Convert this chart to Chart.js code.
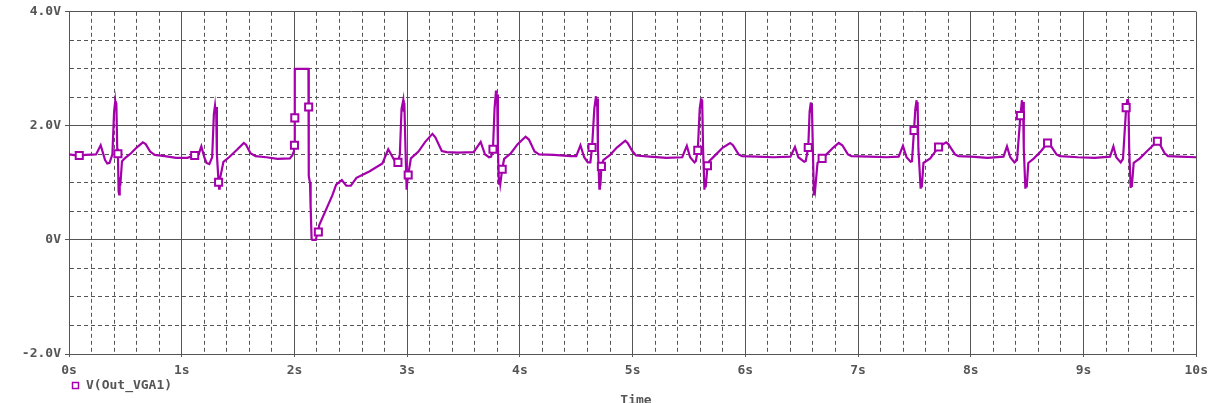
<!DOCTYPE html>
<html>
<head>
<meta charset="utf-8">
<script src="https://cdn.jsdelivr.net/npm/chart.js@4/dist/chart.umd.min.js"></script>
<style>
  html, body { margin: 0; padding: 0; background: #fff; }
  canvas { display: block; }
</style>
</head>
<body>
<canvas id="scopeChart" width="1214" height="403"></canvas>
<script>
// V(Out_VGA1) trace, [time s, volts]
const trace = [
  [0.00, 1.50], [0.08, 1.48], [0.15, 1.49], [0.24, 1.50], [0.281, 1.66], [0.32, 1.40],
  [0.34, 1.34], [0.36, 1.35], [0.385, 1.50], [0.40, 2.25], [0.41, 2.43], [0.416, 2.30],
  [0.42, 2.40], [0.428, 1.60], [0.434, 1.51], [0.44, 0.85], [0.445, 0.80], [0.45, 1.10],
  [0.455, 0.95], [0.47, 1.38], [0.50, 1.44], [0.55, 1.52], [0.60, 1.62], [0.655, 1.71],
  [0.68, 1.68], [0.72, 1.55], [0.76, 1.49], [0.85, 1.47], [0.95, 1.44], [1.05, 1.44],
  [1.115, 1.48], [1.15, 1.50], [1.174, 1.64], [1.20, 1.45], [1.22, 1.35], [1.245, 1.33],
  [1.27, 1.45], [1.285, 2.20], [1.295, 2.35], [1.30, 2.22], [1.305, 2.33], [1.312, 1.50],
  [1.327, 1.01], [1.332, 0.90], [1.337, 1.05], [1.37, 1.37], [1.42, 1.45], [1.49, 1.58],
  [1.551, 1.70], [1.57, 1.67], [1.61, 1.52], [1.655, 1.47], [1.75, 1.45], [1.85, 1.42],
  [1.96, 1.43], [1.98, 1.48], [1.995, 1.55], [2.00, 1.66], [2.003, 3.00], [2.124, 3.00],
  [2.126, 2.33], [2.128, 1.12], [2.138, 1.00], [2.142, 0.55], [2.145, 0.60], [2.152, 0.02],
  [2.158, 0.00], [2.19, 0.00], [2.20, 0.10], [2.212, 0.14], [2.22, 0.26], [2.336, 0.78],
  [2.37, 0.97], [2.42, 1.05], [2.46, 0.95], [2.50, 0.95], [2.55, 1.09], [2.664, 1.20],
  [2.78, 1.34], [2.832, 1.59], [2.885, 1.40], [2.918, 1.36], [2.935, 1.50], [2.95, 2.30],
  [2.965, 2.45], [2.97, 2.25], [2.975, 2.40], [2.985, 1.60], [2.995, 0.88], [3.00, 1.00],
  [3.009, 1.14], [3.033, 1.43], [3.10, 1.55], [3.16, 1.72], [3.224, 1.86], [3.25, 1.80],
  [3.307, 1.56], [3.35, 1.54], [3.45, 1.53], [3.59, 1.54], [3.652, 1.72], [3.69, 1.50],
  [3.726, 1.45], [3.745, 1.46], [3.761, 1.59], [3.775, 2.30], [3.788, 2.62], [3.793, 2.40],
  [3.798, 2.55], [3.805, 1.60], [3.814, 0.97], [3.819, 1.10], [3.826, 0.98], [3.843, 1.24],
  [3.86, 1.42], [3.92, 1.52], [3.98, 1.68], [4.05, 1.81], [4.08, 1.76], [4.13, 1.55],
  [4.17, 1.50], [4.30, 1.49], [4.45, 1.47], [4.50, 1.47], [4.537, 1.66], [4.57, 1.45],
  [4.602, 1.36], [4.625, 1.36], [4.640, 1.62], [4.66, 2.30], [4.675, 2.52], [4.68, 2.35],
  [4.685, 2.48], [4.692, 1.60], [4.705, 0.90], [4.71, 1.10], [4.714, 0.95], [4.723, 1.29],
  [4.74, 1.40], [4.80, 1.49], [4.86, 1.62], [4.935, 1.74], [4.955, 1.70], [5.00, 1.55],
  [5.03, 1.48], [5.15, 1.46], [5.30, 1.44], [5.44, 1.45], [5.481, 1.65], [5.51, 1.45],
  [5.549, 1.36], [5.56, 1.38], [5.578, 1.57], [5.595, 2.30], [5.608, 2.48], [5.612, 2.30],
  [5.617, 2.45], [5.625, 1.60], [5.637, 0.88], [5.642, 1.05], [5.648, 0.92], [5.664, 1.30],
  [5.68, 1.38], [5.74, 1.50], [5.80, 1.62], [5.865, 1.70], [5.89, 1.66], [5.94, 1.50],
  [5.97, 1.47], [6.10, 1.46], [6.25, 1.45], [6.40, 1.46], [6.44, 1.63], [6.47, 1.45],
  [6.522, 1.37], [6.535, 1.38], [6.558, 1.62], [6.57, 2.25], [6.581, 2.41], [6.585, 2.25],
  [6.59, 2.38], [6.60, 1.50], [6.608, 0.78], [6.614, 1.00], [6.62, 0.90], [6.64, 1.35],
  [6.681, 1.43], [6.72, 1.50], [6.78, 1.62], [6.829, 1.70], [6.86, 1.66], [6.91, 1.50],
  [6.94, 1.47], [7.10, 1.46], [7.25, 1.45], [7.36, 1.46], [7.398, 1.65], [7.43, 1.45],
  [7.466, 1.37], [7.478, 1.38], [7.496, 1.92], [7.508, 2.30], [7.519, 2.45], [7.523, 2.28],
  [7.528, 2.42], [7.535, 1.60], [7.555, 0.90], [7.56, 1.05], [7.565, 0.92], [7.58, 1.35],
  [7.64, 1.43], [7.714, 1.63], [7.781, 1.71], [7.80, 1.68], [7.86, 1.50], [7.89, 1.47],
  [8.00, 1.46], [8.15, 1.44], [8.29, 1.46], [8.321, 1.64], [8.35, 1.45], [8.387, 1.36],
  [8.41, 1.40], [8.44, 2.18], [8.454, 2.45], [8.458, 2.28], [8.463, 2.42], [8.47, 1.60],
  [8.484, 0.90], [8.49, 1.05], [8.496, 0.92], [8.51, 1.35], [8.56, 1.43], [8.62, 1.55],
  [8.681, 1.70], [8.70, 1.68], [8.76, 1.50], [8.79, 1.47], [8.95, 1.45], [9.10, 1.44],
  [9.235, 1.46], [9.265, 1.64], [9.29, 1.45], [9.33, 1.36], [9.35, 1.42], [9.378, 2.32],
  [9.389, 2.47], [9.393, 2.28], [9.398, 2.43], [9.405, 1.60], [9.418, 0.91], [9.423, 1.05],
  [9.428, 0.93], [9.445, 1.35], [9.50, 1.43], [9.56, 1.55], [9.655, 1.73], [9.67, 1.70],
  [9.72, 1.52], [9.75, 1.47], [9.85, 1.46], [10.0, 1.45]
];

// hollow square markers along the trace
const markerT = [0.091, 0.434, 1.115, 1.327, 2.0, 2.003, 2.126, 2.212, 2.918, 3.009, 3.761, 3.843,
  4.640, 4.723, 5.578, 5.664, 6.558, 6.681, 7.496, 7.714, 8.440, 8.681, 9.378, 9.655];
const markerV = [1.48, 1.51, 1.48, 1.01, 1.66, 2.14, 2.33, 0.14, 1.36, 1.14, 1.59, 1.24,
  1.62, 1.29, 1.57, 1.30, 1.62, 1.43, 1.92, 1.63, 2.18, 1.70, 2.32, 1.73];

const xMajor = [0, 1, 2, 3, 4, 5, 6, 7, 8, 9, 10];
const yMajor = [-2, 0, 2, 4];
const traceName = 'V(Out_VGA1)';

const purple = '#a400ab';
const gray = '#555555';
const monoFont = { family: 'DejaVu Sans Mono', size: 13, weight: 'bold' };

const near = (v, list) => list.some(m => Math.abs(v - m) < 1e-6);
const xLabel = v => near(v, xMajor) ? Math.round(v) + 's' : '';
const yLabel = v => {
  if (!near(v, yMajor)) return '';
  const r = Math.round(v);
  return r === 0 ? '0V' : r.toFixed(1) + 'V';
};

const overlay = {
  id: 'overlay',
  afterDraw(chart) {
    const c = chart.ctx;
    c.save();
    c.strokeStyle = purple;
    c.lineWidth = 1.5;
    c.strokeRect(72.5, 382.5, 6, 6);
    c.fillStyle = gray;
    c.font = 'bold 13px "DejaVu Sans Mono"';
    c.textBaseline = 'middle';
    c.textAlign = 'left';
    c.fillText(traceName, 86, 386);
    c.textAlign = 'center';
    c.textBaseline = 'top';
    c.fillText('Time', 636, 394);
    c.restore();
  }
};

const ctx = document.getElementById('scopeChart').getContext('2d');
new Chart(ctx, {
  type: 'scatter',
  data: {
    datasets: [{
      label: traceName + ' markers',
      data: markerT.map((t, i) => ({ x: t, y: markerV[i] })),
      showLine: false,
      pointStyle: 'rect',
      pointRadius: 5,
      borderWidth: 2,
      borderColor: purple,
      backgroundColor: '#ffffff'
    }, {
      label: traceName,
      data: trace.map(p => ({ x: p[0], y: p[1] })),
      showLine: true,
      borderColor: purple,
      borderWidth: 2.2,
      pointRadius: 0,
      tension: 0
    }]
  },
  options: {
    responsive: false,
    animation: false,
    events: [],
    layout: { padding: { top: 6, right: 15, bottom: 0, left: 0 } },
    plugins: {
      legend: { display: false },
      tooltip: { enabled: false }
    },
    scales: {
      x: {
        type: 'linear',
        min: 0,
        max: 10,
        afterFit: s => { s.height = 49; },
        ticks: {
          stepSize: 0.2,
          autoSkip: false,
          maxRotation: 0,
          padding: 6,
          color: gray,
          font: monoFont,
          callback: xLabel
        },
        grid: {
          color: gray,
          lineWidth: 1,
          tickLength: 3,
          tickColor: c => near(c.tick.value, xMajor) ? gray : 'rgba(0,0,0,0)'
        },
        border: {
          color: gray,
          dash: c => (c.tick && !near(c.tick.value, xMajor)) ? [4, 3] : []
        }
      },
      y: {
        min: -2,
        max: 4,
        afterFit: s => { s.width = 69; },
        ticks: {
          stepSize: 0.5,
          autoSkip: false,
          padding: 4,
          color: gray,
          font: monoFont,
          callback: yLabel
        },
        grid: {
          color: gray,
          lineWidth: 1,
          tickLength: 4,
          tickColor: c => near(c.tick.value, yMajor) ? gray : 'rgba(0,0,0,0)'
        },
        border: {
          color: gray,
          dash: c => (c.tick && !near(c.tick.value, yMajor)) ? [4, 3] : []
        }
      }
    }
  },
  plugins: [overlay]
});
</script>
</body>
</html>
